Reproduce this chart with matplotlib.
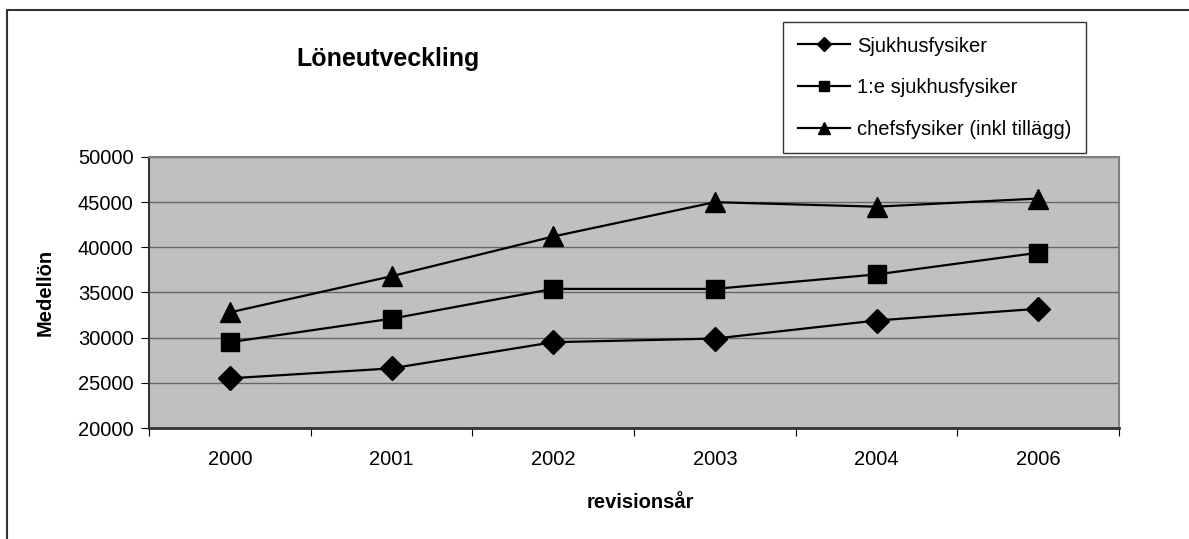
import numpy as np
import matplotlib.pyplot as plt
from matplotlib.patches import Rectangle

plt.rcParams['font.family'] = ['Liberation Sans', 'DejaVu Sans']

years = ["2000", "2001", "2002", "2003", "2004", "2006"]
sjukhusfysiker = [25500, 26600, 29500, 29900, 31900, 33200]
forste_sjukhusfysiker = [29500, 32100, 35400, 35400, 37000, 39400]
chefsfysiker = [32800, 36800, 41200, 45000, 44500, 45400]

labels = ["Sjukhusfysiker", "1:e sjukhusfysiker", "chefsfysiker (inkl tillägg)"]

fig = plt.figure(figsize=(11.89, 5.39), dpi=100)
W, H = 1189, 539
ax = fig.add_axes([149 / W, 1 - 428 / H, (1119 - 149) / W, (428 - 157) / H])
ax.set_facecolor('#c0c0c0')

x = np.arange(len(years))
h1, = ax.plot(x, sjukhusfysiker, color='black', lw=1.6, marker='D', ms=12, clip_on=False)
h2, = ax.plot(x, forste_sjukhusfysiker, color='black', lw=1.6, marker='s', ms=12.5, clip_on=False)
h3, = ax.plot(x, chefsfysiker, color='black', lw=1.6, marker='^', ms=14, clip_on=False)

ax.set_xlim(-0.5, len(years) - 0.5)
ax.set_ylim(20000, 50000)
ax.set_yticks(np.arange(20000, 50001, 5000))
ax.yaxis.grid(True, color='#666666', lw=1)
ax.set_axisbelow(True)

# category ticks sit between the years
ax.set_xticks(np.arange(-0.5, len(years), 1))
ax.set_xticklabels([])
ax.set_xticks(x, minor=True)
ax.set_xticklabels(years, minor=True)
ax.tick_params(axis='x', which='major', length=6, direction='out', color='black')
ax.tick_params(axis='x', which='minor', length=0, pad=16, labelsize=14.5)
ax.tick_params(axis='y', length=6, direction='out', labelsize=14.5, pad=5)

for s in ['top', 'right']:
    ax.spines[s].set_color('#808080')
    ax.spines[s].set_linewidth(1.5)
ax.spines['bottom'].set_color('#333333')
ax.spines['bottom'].set_linewidth(2)
ax.spines['left'].set_color('#333333')
ax.spines['left'].set_linewidth(1.5)

fig.text(45 / W, 1 - 292 / H, 'Medellön', fontsize=14.5, fontweight='bold',
         rotation=90, ha='center', va='center')
fig.text(640 / W, 1 - 503 / H, 'revisionsår', fontsize=14.5, fontweight='bold',
         ha='center', va='center')
fig.text(388 / W, 1 - 59 / H, 'Löneutveckling', fontsize=18, fontweight='bold',
         ha='center', va='center')

leg = fig.legend([h1, h2, h3], labels, loc='upper left',
                 bbox_to_anchor=(783 / W, 1 - 22 / H), fontsize=14.5,
                 frameon=True, fancybox=False, edgecolor='black',
                 handlelength=2.6, handletextpad=0.35, labelspacing=1.12,
                 borderpad=0.72, borderaxespad=0, markerscale=0.6)
leg.get_frame().set_linewidth(1)

# outer chart border
fig.patches.append(Rectangle((7 / W, -0.1), 1.2, 1 - 10 / H + 0.1,
                             transform=fig.transFigure, fill=False,
                             edgecolor='#333333', lw=1.5))

fig.savefig('out.png', dpi=100)
